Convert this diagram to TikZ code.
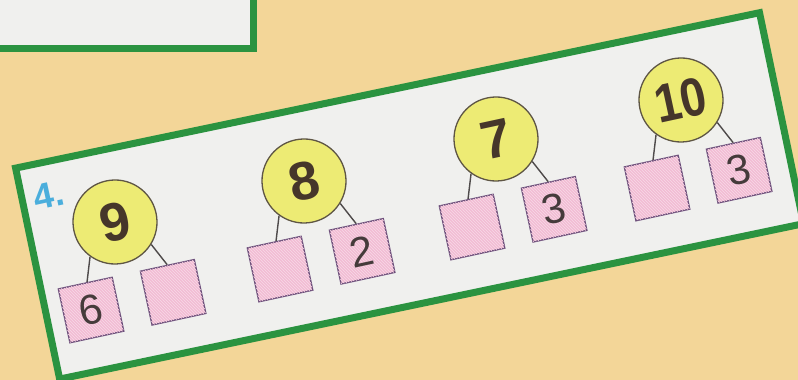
\documentclass[tikz,border=0pt]{standalone}
\usepackage{fontspec}
\usepackage{graphicx}
\setmainfont{Liberation Sans}
\usetikzlibrary{patterns}
\definecolor{bg}{HTML}{F3D698}
\definecolor{frame}{HTML}{2B9340}
\definecolor{paper}{HTML}{F0F0EE}
\definecolor{circfill}{HTML}{EDEB74}
\definecolor{circborder}{HTML}{5E5544}
\definecolor{numcol}{HTML}{46362A}
\definecolor{sqfill}{HTML}{F2BCD4}
\definecolor{sqborder}{HTML}{6C4E7A}
\definecolor{boxnum}{HTML}{453B3B}
\definecolor{linkcol}{HTML}{4E4A4A}
\definecolor{labelblue}{HTML}{4BAEDC}
\begin{document}
\begin{tikzpicture}[x=1pt,y=1pt,
  circ/.style={circle, draw=circborder, fill=circfill, line width=1.3pt,
    minimum size=84pt, inner sep=0pt, font=\fontsize{54}{54}\selectfont\bfseries, text=numcol},
  sq/.style={rectangle, draw=sqborder, fill=sqfill, line width=1.4pt,
    postaction={pattern=north west lines, pattern color=white!45!sqfill},
    minimum size=55pt, inner sep=0pt, font=\fontsize{42}{42}\selectfont, text=boxnum},
  link/.style={draw=linkcol, line width=1.4pt},
  panelframe/.style={draw=frame, fill=paper, line width=7pt}]
\fill[bg] (0,0) rectangle (798,380);
\useasboundingbox (0,0) rectangle (798,380);
% top-left box (partly outside)
\draw[panelframe] (-10,400) rectangle (253,331.5);
% main rotated panel
\node[panelframe, rectangle, minimum width=760pt, minimum height=215.5pt,
  inner sep=0pt, rotate=11.8] (panel) at (409.6,184.1) {};
% exercise label
\node[rotate=12.2, text=labelblue, inner sep=0pt, font=\fontsize{36}{36}\selectfont\bfseries]
  (lbl) at (49,185) {4.};
% group 9
\begin{scope}[shift={(115,158)}, rotate=12.2, transform shape]
  \node[circ] (c9) at (0,0) {9};
  \node[sq] (a9) at (-42,-81) {6};
  \node[sq] (b9) at (42,-81) {};
  \draw[link] (c9.222) -- (a9.86);
  \draw[link] (c9.-44) -- (b9.north);
\end{scope}
% group 8
\begin{scope}[shift={(304,199)}, rotate=12.2, transform shape]
  \node[circ] (c8) at (0,0) {8};
  \node[sq] (a8) at (-42,-81) {};
  \node[sq] (b8) at (42,-81) {2};
  \draw[link] (c8.222) -- (a8.86);
  \draw[link] (c8.-44) -- (b8.north);
\end{scope}
% group 7
\begin{scope}[shift={(496,241)}, rotate=12.2, transform shape]
  \node[circ] (c7) at (0,0) {7};
  \node[sq] (a7) at (-42,-81) {};
  \node[sq] (b7) at (42,-81) {3};
  \draw[link] (c7.222) -- (a7.86);
  \draw[link] (c7.-44) -- (b7.north);
\end{scope}
% group 10
\begin{scope}[shift={(681,280)}, rotate=12.2, transform shape]
  \node[circ] (c10) at (0,0) {\scalebox{0.86}[1]{10}};
  \node[sq] (a10) at (-42,-81) {};
  \node[sq] (b10) at (42,-81) {3};
  \draw[link] (c10.222) -- (a10.86);
  \draw[link] (c10.-44) -- (b10.north);
\end{scope}
\end{tikzpicture}
\end{document}
